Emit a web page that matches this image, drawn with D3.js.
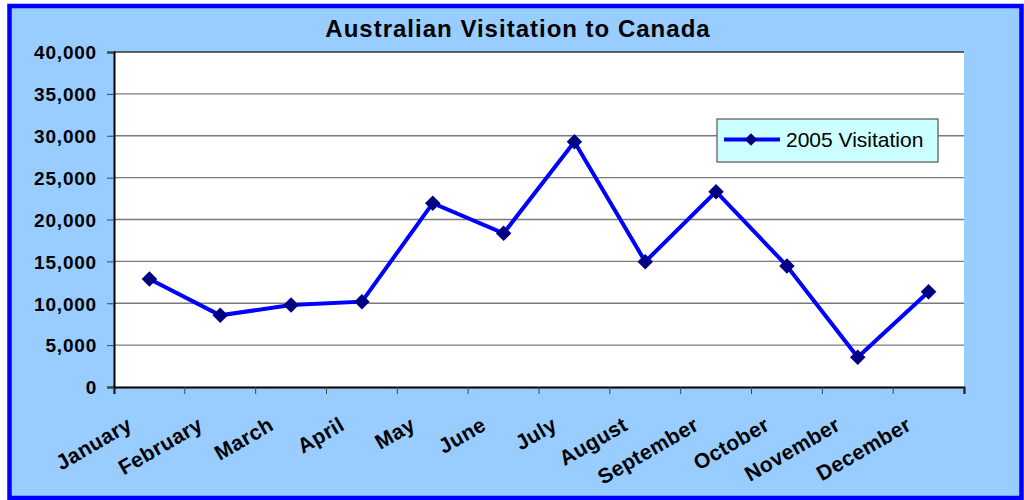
<!DOCTYPE html>
<html lang="en">
    <head>
        <meta charset="utf-8">
        <title>Australian Visitation to Canada</title>
        <script type="text/javascript" src="https://d3js.org/d3.v7.min.js"></script>
        <style>
            body { margin: 0; background: #ffffff; }
            text { font-family: Arial, "Liberation Sans", sans-serif; }
        </style>
    </head>
    <body>
        <script type="text/javascript">

        //Data
        const months = ["January", "February", "March", "April", "May", "June",
                        "July", "August", "September", "October", "November", "December"];
        const visitation2005 = [12900, 8560, 9790, 10190, 21950, 18350,
                                29290, 14960, 23320, 14450, 3550, 11380];
        const yTicks = [0, 5000, 10000, 15000, 20000, 25000, 30000, 35000, 40000];
        const seriesName = "2005 Visitation";
        const chartTitle = "Australian Visitation to Canada";

        //Declare consts
        const width = 1024;
        const height = 500;
        const plot = {left: 114, right: 964, top: 52, bottom: 387};

        const data = months.map((m, i) => ({month: m, value: visitation2005[i]}));

        //Scales
        const xScale = d3.scaleBand()
                        .domain(months)
                        .range([plot.left, plot.right]);

        const yScale = d3.scaleLinear()
                        .domain([0, 40000])
                        .range([plot.bottom, plot.top]);

        //SVG
        const svg = d3.select("body")
                    .append("svg")
                    .attr("width", width)
                    .attr("height", height);

        //background + blue frame
        svg.append("rect")
            .attr("x", 9.5)
            .attr("y", 6)
            .attr("width", 1012)
            .attr("height", 492)
            .attr("fill", "#99ccff")
            .attr("stroke", "#0000ff")
            .attr("stroke-width", 4.5);

        //plot area
        svg.append("rect")
            .attr("x", plot.left)
            .attr("y", plot.top)
            .attr("width", plot.right - plot.left)
            .attr("height", plot.bottom - plot.top)
            .attr("fill", "#ffffff");

        //gridlines
        svg.append("g")
            .selectAll("line")
            .data(yTicks.filter(d => d > 0))
            .enter()
            .append("line")
            .attr("x1", plot.left)
            .attr("x2", plot.right)
            .attr("y1", d => yScale(d))
            .attr("y2", d => yScale(d))
            .attr("stroke", d => d === 40000 ? "#333333" : "#7a7a7a")
            .attr("stroke-width", 1.3);

        //Axes
        const leftAxis = d3.axisLeft(yScale)
                           .tickValues(yTicks)
                           .tickSize(7)
                           .tickPadding(10)
                           .tickFormat(d3.format(","));

        const yAxis = svg.append("g")
            .attr("transform", "translate(" + plot.left + ",0)")
            .call(leftAxis);
        yAxis.select(".domain").attr("stroke", "#000").attr("stroke-width", 2);
        yAxis.selectAll(".tick line").attr("stroke", "#444");
        yAxis.selectAll("text")
            .attr("font-size", 19)
            .attr("font-weight", "bold")
            .attr("letter-spacing", 0.8)
            .attr("fill", "#000")
            .attr("dy", "0.36em");

        const bottomAxis = d3.axisBottom(xScale)
                             .tickSize(7)
                             .tickFormat("");

        const xAxis = svg.append("g")
            .attr("transform", "translate(0," + plot.bottom + ")")
            .call(bottomAxis);
        xAxis.select(".domain").attr("stroke", "#000").attr("stroke-width", 2);
        //excel puts ticks between categories, not on them
        xAxis.selectAll(".tick").remove();
        xAxis.selectAll(".sep")
            .data(months.concat(["end"]))
            .enter()
            .append("line")
            .attr("class", "sep")
            .attr("x1", (d, i) => i < months.length ? xScale(d) : plot.right)
            .attr("x2", (d, i) => i < months.length ? xScale(d) : plot.right)
            .attr("y1", 0)
            .attr("y2", 7)
            .attr("stroke", "#444");

        //month labels, rotated
        svg.append("g")
            .selectAll("text")
            .data(months)
            .enter()
            .append("text")
            .text(d => d)
            .attr("transform", d => "translate(" + (xScale(d) + xScale.bandwidth() / 2 - 16) + ",429) rotate(-30)")
            .attr("text-anchor", "end")
            .attr("font-size", 21)
            .attr("font-weight", "bold")
            .attr("letter-spacing", 0.4)
            .attr("fill", "#000");

        //Line
        const line = d3.line()
            .x(d => xScale(d.month) + xScale.bandwidth() / 2)
            .y(d => yScale(d.value));

        svg.append("path")
            .datum(data)
            .attr("d", line)
            .attr("fill", "none")
            .attr("stroke", "#0000ff")
            .attr("stroke-width", 4)
            .attr("stroke-linejoin", "miter");

        //diamond markers
        const diamond = d3.symbol().type(d3.symbolSquare).size(120);

        svg.selectAll(".marker")
            .data(data)
            .enter()
            .append("path")
            .attr("class", "marker")
            .attr("d", diamond)
            .attr("transform", d => "translate(" + (xScale(d.month) + xScale.bandwidth() / 2) + "," + yScale(d.value) + ") rotate(45)")
            .attr("fill", "#000080");

        //Legend
        const legend = svg.append("g")
            .attr("transform", "translate(717,119)");

        legend.append("rect")
            .attr("width", 221)
            .attr("height", 43)
            .attr("fill", "#ccffff")
            .attr("stroke", "#555")
            .attr("stroke-width", 1.2);

        legend.append("line")
            .attr("x1", 7)
            .attr("x2", 63)
            .attr("y1", 20.5)
            .attr("y2", 20.5)
            .attr("stroke", "#0000ff")
            .attr("stroke-width", 4);

        legend.append("path")
            .attr("d", d3.symbol().type(d3.symbolSquare).size(80))
            .attr("transform", "translate(34,20.5) rotate(45)")
            .attr("fill", "#000080");

        legend.append("text")
            .text(seriesName)
            .attr("x", 69)
            .attr("y", 28)
            .attr("font-size", 21)
            .attr("fill", "#000");

        //Title
        svg.append("text")
            .text(chartTitle)
            .attr("x", 518)
            .attr("y", 37)
            .attr("text-anchor", "middle")
            .attr("font-size", 24)
            .attr("font-weight", "bold")
            .attr("letter-spacing", 1)
            .attr("fill", "#000");

        </script>
    </body>
</html>
